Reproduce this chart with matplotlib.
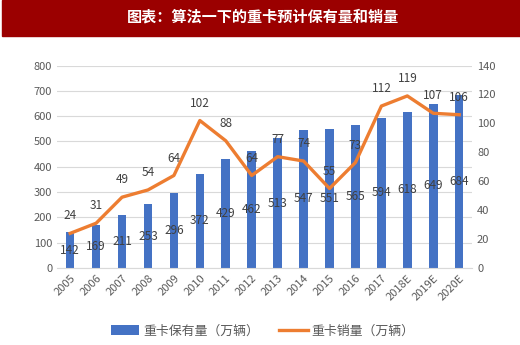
import matplotlib.pyplot as plt
import numpy as np

plt.rcParams['font.family'] = ['Noto Sans CJK SC', 'DejaVu Sans']

years = ['2005', '2006', '2007', '2008', '2009', '2010', '2011', '2012',
         '2013', '2014', '2015', '2016', '2017', '2018E', '2019E', '2020E']
stock = [142, 169, 211, 253, 296, 372, 429, 462, 513, 547, 551, 565, 594, 618, 649, 684]
sales = [24, 31, 49, 54, 64, 102, 88, 64, 77, 74, 55, 73, 112, 119, 107, 106]

blue = '#4472C4'
orange = '#ED7D31'
gray = '#595959'

fig = plt.figure(figsize=(5.2, 3.45), dpi=100)

# red title band
fig.patches.append(plt.Rectangle((2 / 520, 1 - 36 / 345), 518 / 520, 36 / 345,
                                 transform=fig.transFigure, color='#9B0000', zorder=0))
fig.text(0.505, 1 - 17 / 345, '图表：算法一下的重卡预计保有量和销量', color='white',
         fontsize=10.9, fontweight='bold', ha='center', va='center')

ax = fig.add_axes([0.110, 0.223, 0.798, 0.587])
x = np.arange(len(years))
bars = ax.bar(x, stock, width=0.33, color=blue, zorder=2, label='重卡保有量（万辆）')
ax.set_ylim(0, 800)
ax.set_xlim(-0.5, len(years) - 0.5)
ax.set_yticks(range(0, 801, 100))
ax.yaxis.grid(True, color='#d9d9d9', linewidth=0.8, zorder=0)
ax.set_axisbelow(True)
for s in ['top', 'right', 'left']:
    ax.spines[s].set_visible(False)
ax.spines['bottom'].set_color('#d9d9d9')
ax.tick_params(axis='both', length=0, colors=gray, labelsize=8)
ax.set_xticks(x)
ax.set_xticklabels(years, rotation=45, ha='right', rotation_mode='anchor')
for xi, v in zip(x, stock):
    ax.text(xi, v / 2, str(v), ha='center', va='center', fontsize=8.5, color='#404040', zorder=5)

ax2 = ax.twinx()
ax2.plot(x, sales, color=orange, linewidth=2.4, zorder=3, label='重卡销量（万辆）')
ax2.set_ylim(0, 140)
ax2.set_yticks(range(0, 141, 20))
for s in ['top', 'right', 'left', 'bottom']:
    ax2.spines[s].set_visible(False)
ax2.tick_params(axis='y', length=0, colors=gray, labelsize=8)
for xi, v in zip(x, sales):
    ax2.annotate(str(v), (xi, v), xytext=(0, 12.5), textcoords='offset points',
                 ha='center', va='center', fontsize=8.5, color='#404040')

h1, l1 = ax.get_legend_handles_labels()
h2, l2 = ax2.get_legend_handles_labels()
fig.legend(h1 + h2, l1 + l2, loc='center', bbox_to_anchor=(0.505, 1 - 331 / 345), ncol=2,
           frameon=False, fontsize=9.3, labelcolor=gray, handlelength=2.2,
           columnspacing=1.6, handletextpad=0.3)

fig.savefig('out.png', dpi=100)
